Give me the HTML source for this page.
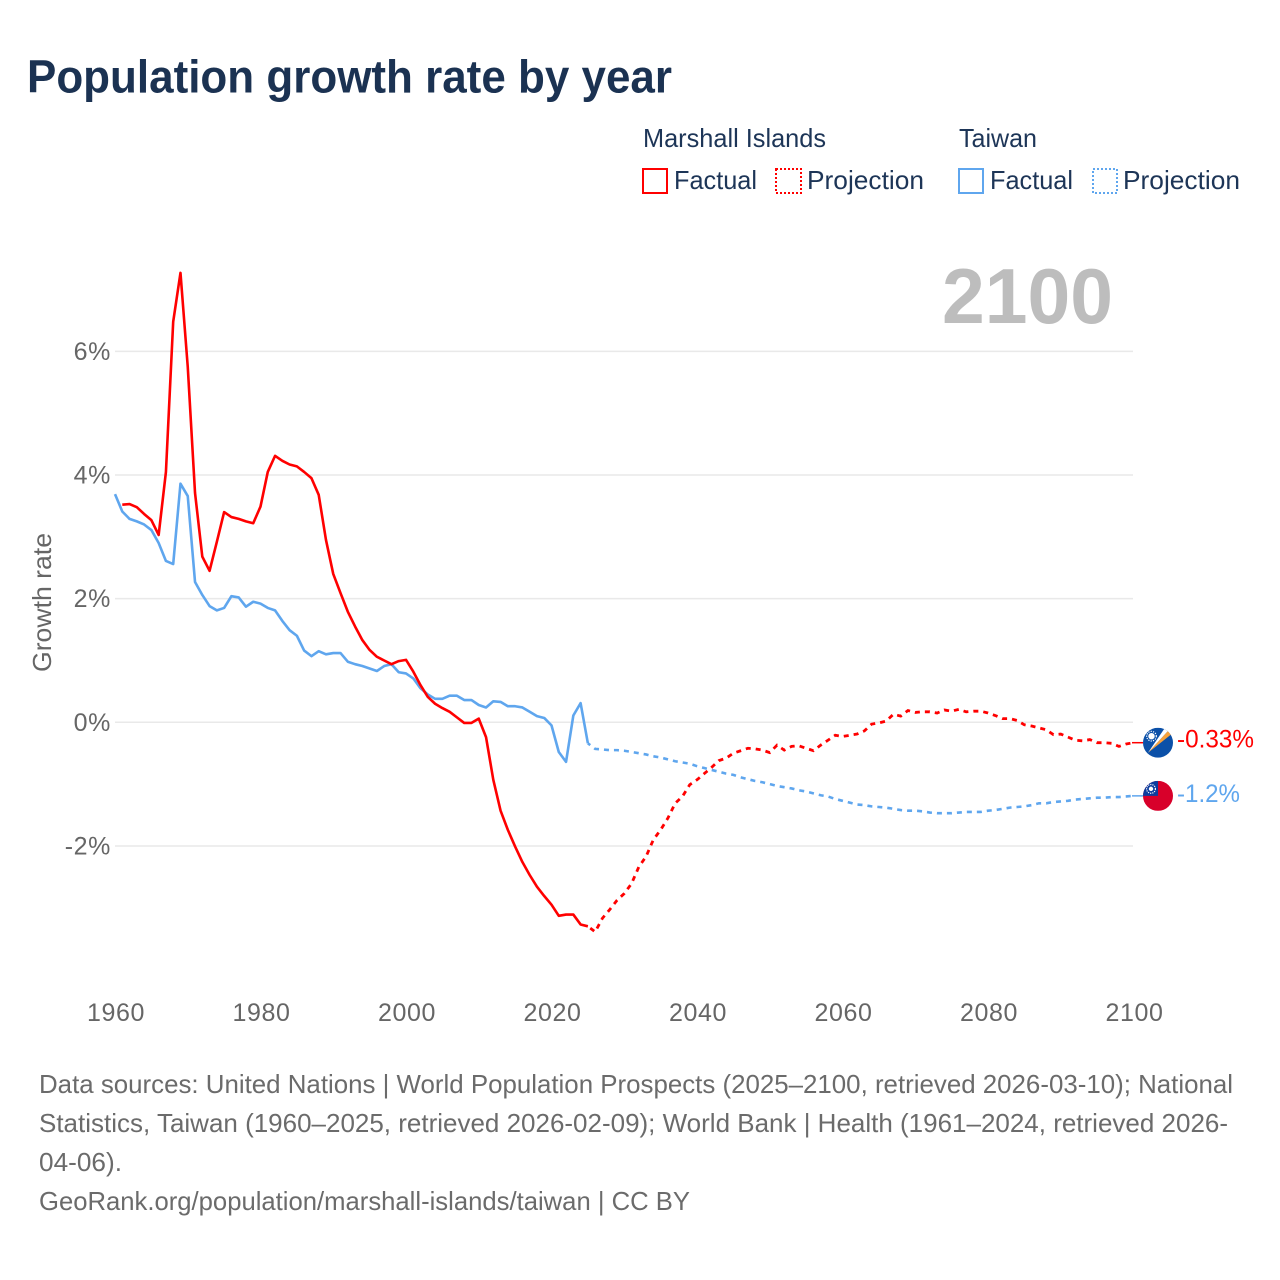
<!DOCTYPE html>
<html lang="en">
<head>
<meta charset="utf-8">
<title>Population growth rate by year</title>
<style>
  html, body { margin: 0; padding: 0; background: #fff; }
  svg { display: block; }
  text { font-family: "Liberation Sans", sans-serif; }
  .tick { font-size: 25px; fill: #666; letter-spacing: .6px; }
  .legend { font-size: 26px; fill: #1d3557; }
  .foot { font-size: 26px; fill: #6b6b6b; }
</style>
</head>
<body>
<svg id="chart" width="1280" height="1280" viewBox="0 0 1280 1280" xmlns="http://www.w3.org/2000/svg">
  <defs>
    <clipPath id="flag-clip"><circle cx="0" cy="0" r="15"></circle></clipPath>
  </defs>
  <rect width="1280" height="1280" fill="#fff"></rect>

  <text x="27" y="92.5" font-size="46" font-weight="700" fill="#1b3252" textLength="645" lengthAdjust="spacingAndGlyphs">Population growth rate by year</text>

  <g>
    <text class="legend" x="643" y="147" textLength="183" lengthAdjust="spacingAndGlyphs">Marshall Islands</text>
    <text class="legend" x="959" y="147" textLength="78" lengthAdjust="spacingAndGlyphs">Taiwan</text>
    <rect x="643" y="169" width="24" height="24" fill="none" stroke="#ff0000" stroke-width="2"></rect>
    <text class="legend" x="674" y="189" textLength="83" lengthAdjust="spacingAndGlyphs">Factual</text>
    <rect x="776" y="169" width="25" height="24" fill="none" stroke="#ff0000" stroke-width="2" stroke-dasharray="2 2"></rect>
    <text class="legend" x="807" y="189" textLength="117" lengthAdjust="spacingAndGlyphs">Projection</text>
    <rect x="959" y="169" width="24" height="24" fill="none" stroke="#5fa6ee" stroke-width="2"></rect>
    <text class="legend" x="990" y="189" textLength="83" lengthAdjust="spacingAndGlyphs">Factual</text>
    <rect x="1093" y="169" width="24" height="24" fill="none" stroke="#5fa6ee" stroke-width="2" stroke-dasharray="2 2"></rect>
    <text class="legend" x="1123" y="189" textLength="117" lengthAdjust="spacingAndGlyphs">Projection</text>
  </g>

  <text x="942" y="323" font-size="78" font-weight="700" fill="#bdbdbd" textLength="171" lengthAdjust="spacingAndGlyphs">2100</text>

  <g id="grid"></g>
  <g id="y-ticks"></g>
  <g id="x-ticks"></g>
  <text transform="translate(51 672) rotate(-90)" font-size="26" fill="#666" textLength="139" lengthAdjust="spacingAndGlyphs">Growth rate</text>

  <g id="series"></g>

  <g id="flag-marshall" clip-path="url(#flag-clip)">
    <rect x="-15" y="-15" width="30" height="30" fill="#0b50a8"></rect>
    <polygon points="-10,10 14,-9 11,-13" fill="#f7a23b"></polygon>
    <polygon points="-10,10 11,-13 7,-15" fill="#ffffff"></polygon>
    <circle cx="-6.5" cy="-6.5" r="3.2" fill="#fff"></circle>
    <circle cx="-6.5" cy="-6.5" r="4.8" fill="none" stroke="#fff" stroke-width="1.2" stroke-dasharray="1.2 1.2"></circle>
  </g>
  <g id="flag-taiwan" clip-path="url(#flag-clip)">
    <rect x="-15" y="-15" width="30" height="30" fill="#d8002a"></rect>
    <rect x="-15" y="-15" width="15" height="15" fill="#0c3d9e"></rect>
    <circle cx="-7" cy="-7" r="2.2" fill="#fff"></circle>
    <circle cx="-7" cy="-7" r="4.4" fill="none" stroke="#fff" stroke-width="1.2" stroke-dasharray="1.2 1"></circle>
  </g>
  <g id="end-labels"></g>

  <g>
    <text class="foot" x="39" y="1093" textLength="1194" lengthAdjust="spacingAndGlyphs">Data sources: United Nations | World Population Prospects (2025–2100, retrieved 2026-03-10); National</text>
    <text class="foot" x="39" y="1132" textLength="1189" lengthAdjust="spacingAndGlyphs">Statistics, Taiwan (1960–2025, retrieved 2026-02-09); World Bank | Health (1961–2024, retrieved 2026-</text>
    <text class="foot" x="39" y="1171" textLength="83" lengthAdjust="spacingAndGlyphs">04-06).</text>
    <text class="foot" x="39" y="1210" textLength="651" lengthAdjust="spacingAndGlyphs">GeoRank.org/population/marshall-islands/taiwan | CC BY</text>
  </g>
</svg>

<script>
const xTickYears = [1960, 1980, 2000, 2020, 2040, 2060, 2080, 2100];
const yTickValues = [6, 4, 2, 0, -2];
const endValueLabels = ["-0.33%", "-1.2%"];

const marshallFactualStart = 1961;
const marshallFactual = [3.52,3.53,3.48,3.37,3.27,3.03,4.05,6.48,7.27,5.75,3.71,2.68,2.45,2.92,3.40,3.32,3.29,3.25,3.22,3.49,4.05,4.31,4.23,4.17,4.14,4.05,3.95,3.68,2.95,2.40,2.09,1.79,1.55,1.33,1.17,1.06,1.00,0.94,0.99,1.01,0.82,0.60,0.41,0.30,0.23,0.17,0.08,-0.01,-0.01,0.06,-0.24,-0.93,-1.43,-1.74,-2.01,-2.26,-2.47,-2.66,-2.81,-2.95,-3.13,-3.11,-3.11,-3.27,-3.30];

const marshallProjectionStart = 2025;
const marshallProjection = [-3.30,-3.39,-3.17,-3.03,-2.88,-2.77,-2.61,-2.34,-2.17,-1.90,-1.74,-1.55,-1.31,-1.20,-1.01,-0.93,-0.83,-0.73,-0.62,-0.58,-0.50,-0.46,-0.42,-0.43,-0.45,-0.49,-0.37,-0.45,-0.39,-0.38,-0.42,-0.46,-0.37,-0.29,-0.21,-0.23,-0.21,-0.19,-0.14,-0.03,-0.01,0.02,0.13,0.10,0.19,0.16,0.17,0.17,0.15,0.20,0.18,0.21,0.17,0.18,0.18,0.15,0.11,0.06,0.06,0.03,-0.04,-0.06,-0.09,-0.12,-0.20,-0.19,-0.24,-0.29,-0.30,-0.28,-0.33,-0.33,-0.34,-0.39,-0.35,-0.33];

const taiwanFactualStart = 1960;
const taiwanFactual = [3.69,3.41,3.29,3.25,3.20,3.11,2.90,2.61,2.56,3.86,3.66,2.27,2.06,1.88,1.81,1.85,2.04,2.02,1.87,1.95,1.92,1.85,1.81,1.64,1.49,1.40,1.16,1.07,1.15,1.10,1.12,1.12,0.98,0.94,0.91,0.87,0.83,0.91,0.94,0.81,0.79,0.71,0.55,0.45,0.38,0.38,0.43,0.43,0.36,0.36,0.28,0.24,0.34,0.33,0.26,0.26,0.24,0.17,0.10,0.07,-0.05,-0.48,-0.64,0.11,0.31,-0.34];

const taiwanProjectionStart = 2025;
const taiwanProjection = [-0.34,-0.43,-0.44,-0.45,-0.45,-0.46,-0.48,-0.50,-0.52,-0.55,-0.57,-0.60,-0.63,-0.65,-0.67,-0.71,-0.74,-0.77,-0.80,-0.83,-0.85,-0.89,-0.92,-0.95,-0.97,-1.00,-1.03,-1.05,-1.07,-1.10,-1.12,-1.15,-1.18,-1.20,-1.24,-1.27,-1.30,-1.33,-1.34,-1.36,-1.37,-1.38,-1.40,-1.42,-1.43,-1.43,-1.44,-1.46,-1.47,-1.47,-1.47,-1.46,-1.45,-1.45,-1.45,-1.43,-1.42,-1.40,-1.38,-1.37,-1.36,-1.34,-1.31,-1.31,-1.29,-1.28,-1.27,-1.25,-1.24,-1.23,-1.22,-1.22,-1.21,-1.21,-1.20,-1.19];

const NS = "http://www.w3.org/2000/svg";
const xAxis = year => 115 + (year - 1960) * 7.275;
const yAxis = value => 722.3 - value * 61.82;

function make(tag, attrs, parent, text) {
  const el = document.createElementNS(NS, tag);
  for (const k in attrs) el.setAttribute(k, attrs[k]);
  if (text !== undefined) el.textContent = text;
  parent.appendChild(el);
  return el;
}

const gridGroup = document.getElementById("grid");
const yTickGroup = document.getElementById("y-ticks");
yTickValues.forEach(v => {
  const line = make("line", { x1: 115, x2: 1133, y1: yAxis(v), y2: yAxis(v), stroke: "#e9e9e9", "stroke-width": 1.5 }, gridGroup);
  
  
  const label = make("text", { class: "tick", x: 111, y: yAxis(v) + 8.5, "text-anchor": "end" }, yTickGroup, v + "%");
  
  
});

const xTickGroup = document.getElementById("x-ticks");
xTickYears.forEach(y => {
  const label = make("text", { class: "tick", x: xAxis(y) + 1, y: 1021, "text-anchor": "middle" }, xTickGroup, String(y));
  
  
});

function pathFor(values, startYear) {
  return values.map((v, i) => (i ? "L" : "M") + xAxis(startYear + i).toFixed(2) + " " + yAxis(v).toFixed(2)).join(" ");
}

const seriesGroup = document.getElementById("series");
const RED = "#ff0000", BLUE = "#5fa6ee";

const taiwanFactualLine = make("path", { d: pathFor(taiwanFactual, taiwanFactualStart), fill: "none", stroke: BLUE, "stroke-width": 2.6, "stroke-linejoin": "round" }, seriesGroup);



const taiwanProjectionLine = make("path", { d: pathFor(taiwanProjection, taiwanProjectionStart), fill: "none", stroke: BLUE, "stroke-width": 2.6, "stroke-dasharray": "5 5", "stroke-dashoffset": 2 }, seriesGroup);



const marshallFactualLine = make("path", { d: pathFor(marshallFactual, marshallFactualStart), fill: "none", stroke: RED, "stroke-width": 2.6, "stroke-linejoin": "round" }, seriesGroup);



const marshallProjectionLine = make("path", { d: pathFor(marshallProjection, marshallProjectionStart), fill: "none", stroke: RED, "stroke-width": 2.8, "stroke-dasharray": "5 5", "stroke-dashoffset": 7 }, seriesGroup);



const marshallEnd = marshallProjection[marshallProjection.length - 1];
const taiwanEnd = taiwanProjection[taiwanProjection.length - 1];

const marshallLeader = make("line", { x1: 1132, x2: 1143, y1: yAxis(marshallEnd), y2: yAxis(marshallEnd), stroke: RED, "stroke-width": 1.5 }, seriesGroup);



const taiwanLeader = make("line", { x1: 1132, x2: 1143, y1: yAxis(taiwanEnd), y2: yAxis(taiwanEnd), stroke: BLUE, "stroke-width": 1.5 }, seriesGroup);



document.getElementById("flag-marshall").setAttribute("transform", "translate(1158 " + yAxis(marshallEnd).toFixed(2) + ")");
document.getElementById("flag-taiwan").setAttribute("transform", "translate(1158 " + yAxis(taiwanEnd).toFixed(2) + ")");

const endGroup = document.getElementById("end-labels");
const marshallLabel = make("text", { x: 1177, y: yAxis(marshallEnd) + 5, "font-size": 25, fill: RED, textLength: 77, lengthAdjust: "spacingAndGlyphs" }, endGroup, endValueLabels[0]);



const taiwanLabel = make("text", { x: 1177, y: yAxis(taiwanEnd) + 6, "font-size": 25, fill: BLUE, textLength: 63, lengthAdjust: "spacingAndGlyphs" }, endGroup, endValueLabels[1]);


</script>
</body>
</html>
